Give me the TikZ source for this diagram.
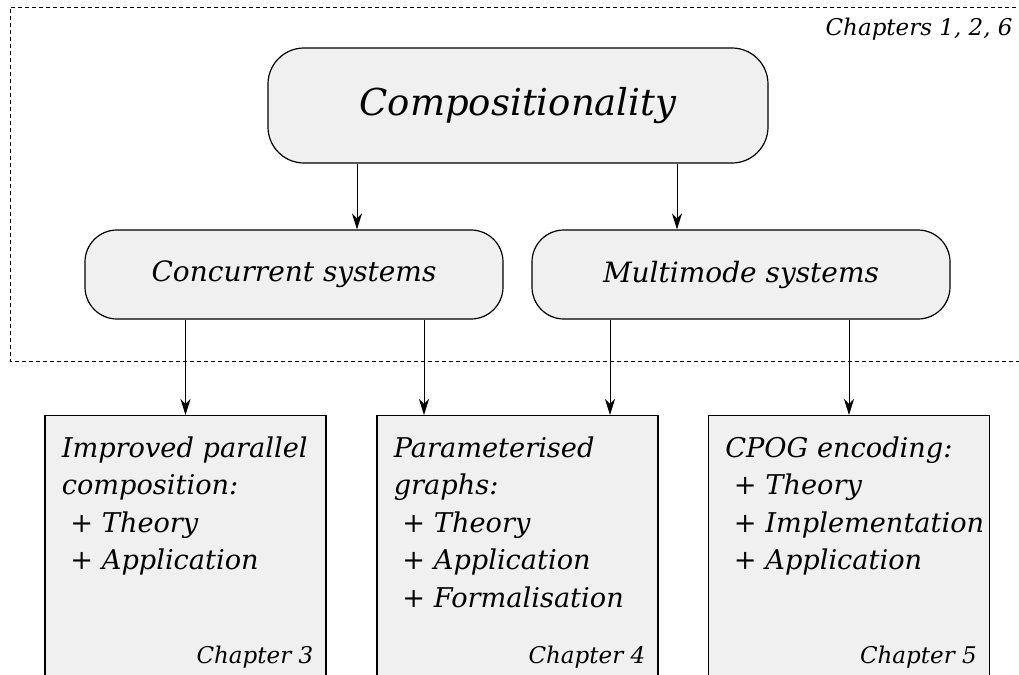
\documentclass[tikz,border=0pt]{standalone}
\usepackage{fontspec}
\setmainfont{DejaVu Serif}
\usetikzlibrary{positioning,arrows.meta}

\begin{document}
\begin{tikzpicture}[x=0.5pt,y=-0.5pt,
		topic/.style={draw=black,fill=black!6,line width=0.6pt,rounded corners=16pt,minimum width=209pt,minimum height=44.5pt,font=\itshape\fontsize{14}{16}\selectfont},
		chbox/.style={draw=black,fill=black!6,line width=0.6pt,minimum width=140.5pt,minimum height=140pt,anchor=north},
		chtext/.style={inner sep=0pt,anchor=north west,align=left,font=\itshape\fontsize{13.6}{18.75}\selectfont},
		chlabel/.style={inner sep=0pt,anchor=base east,font=\itshape\fontsize{11.5}{13}\selectfont},
		arr/.style={-{Stealth[length=8pt,width=5pt,inset=2.5pt]},line width=0.45pt},
		frame/.style={dashed,dash pattern=on 2pt off 1.5pt,line width=0.4pt}]
		\useasboundingbox (0,0) rectangle (1019,675);
		
		\draw[frame] (1030,7) -| (10,361) -- (1030,361);
		\node[chlabel] (chtop) at (1013,35) {Chapters 1, 2, 6};
		
		\node[topic,rounded corners=18pt,minimum width=250pt,minimum height=57.5pt,font=\itshape\fontsize{18.5}{22}\selectfont] (comp) at (518,105.5) {Compositionality};
		\node[topic] (conc) at (294,274.5) {Concurrent systems};
		\node[topic] (multi) at (741,274.5) {Multimode systems};
		
		\node[chbox] (box1) at (185.5,415) {};
		\node[chbox] (box2) at (517.5,415) {};
		\node[chbox] (box3) at (849,415) {};
		
		\node[chtext] (t1) at ([xshift=8.5pt,yshift=-10.5pt]box1.north west) {Improved parallel\\composition:\\\ + Theory\\\ + Application};
		\node[chtext] (t2) at ([xshift=8.5pt,yshift=-10.5pt]box2.north west) {Parameterised\\graphs:\\\ + Theory\\\ + Application\\\ + Formalisation};
		\node[chtext] (t3) at ([xshift=8.5pt,yshift=-10.5pt]box3.north west) {CPOG encoding:\\\ + Theory\\\ + Implementation\\\ + Application};
		
		\node[chlabel] (ch3) at ([xshift=-6.5pt,yshift=-124pt]box1.north east) {Chapter 3};
		\node[chlabel] (ch4) at ([xshift=-6.5pt,yshift=-124pt]box2.north east) {Chapter 4};
		\node[chlabel] (ch5) at ([xshift=-6.5pt,yshift=-124pt]box3.north east) {Chapter 5};
		
		\coordinate (ca) at (357,0);
		\coordinate (cb) at (677,0);
		\coordinate (cc) at (424,0);
		\coordinate (cd) at (610,0);
		
		\draw[arr] (comp.south -| ca)--(conc.north -| ca);
		\draw[arr] (comp.south -| cb)--(multi.north -| cb);
		\draw[arr] (conc.south -| box1.north)--(box1.north);
		\draw[arr] (conc.south -| cc)--(box2.north -| cc);
		\draw[arr] (multi.south -| cd)--(box2.north -| cd);
		\draw[arr] (multi.south -| box3.north)--(box3.north);
	\end{tikzpicture}
\end{document}
